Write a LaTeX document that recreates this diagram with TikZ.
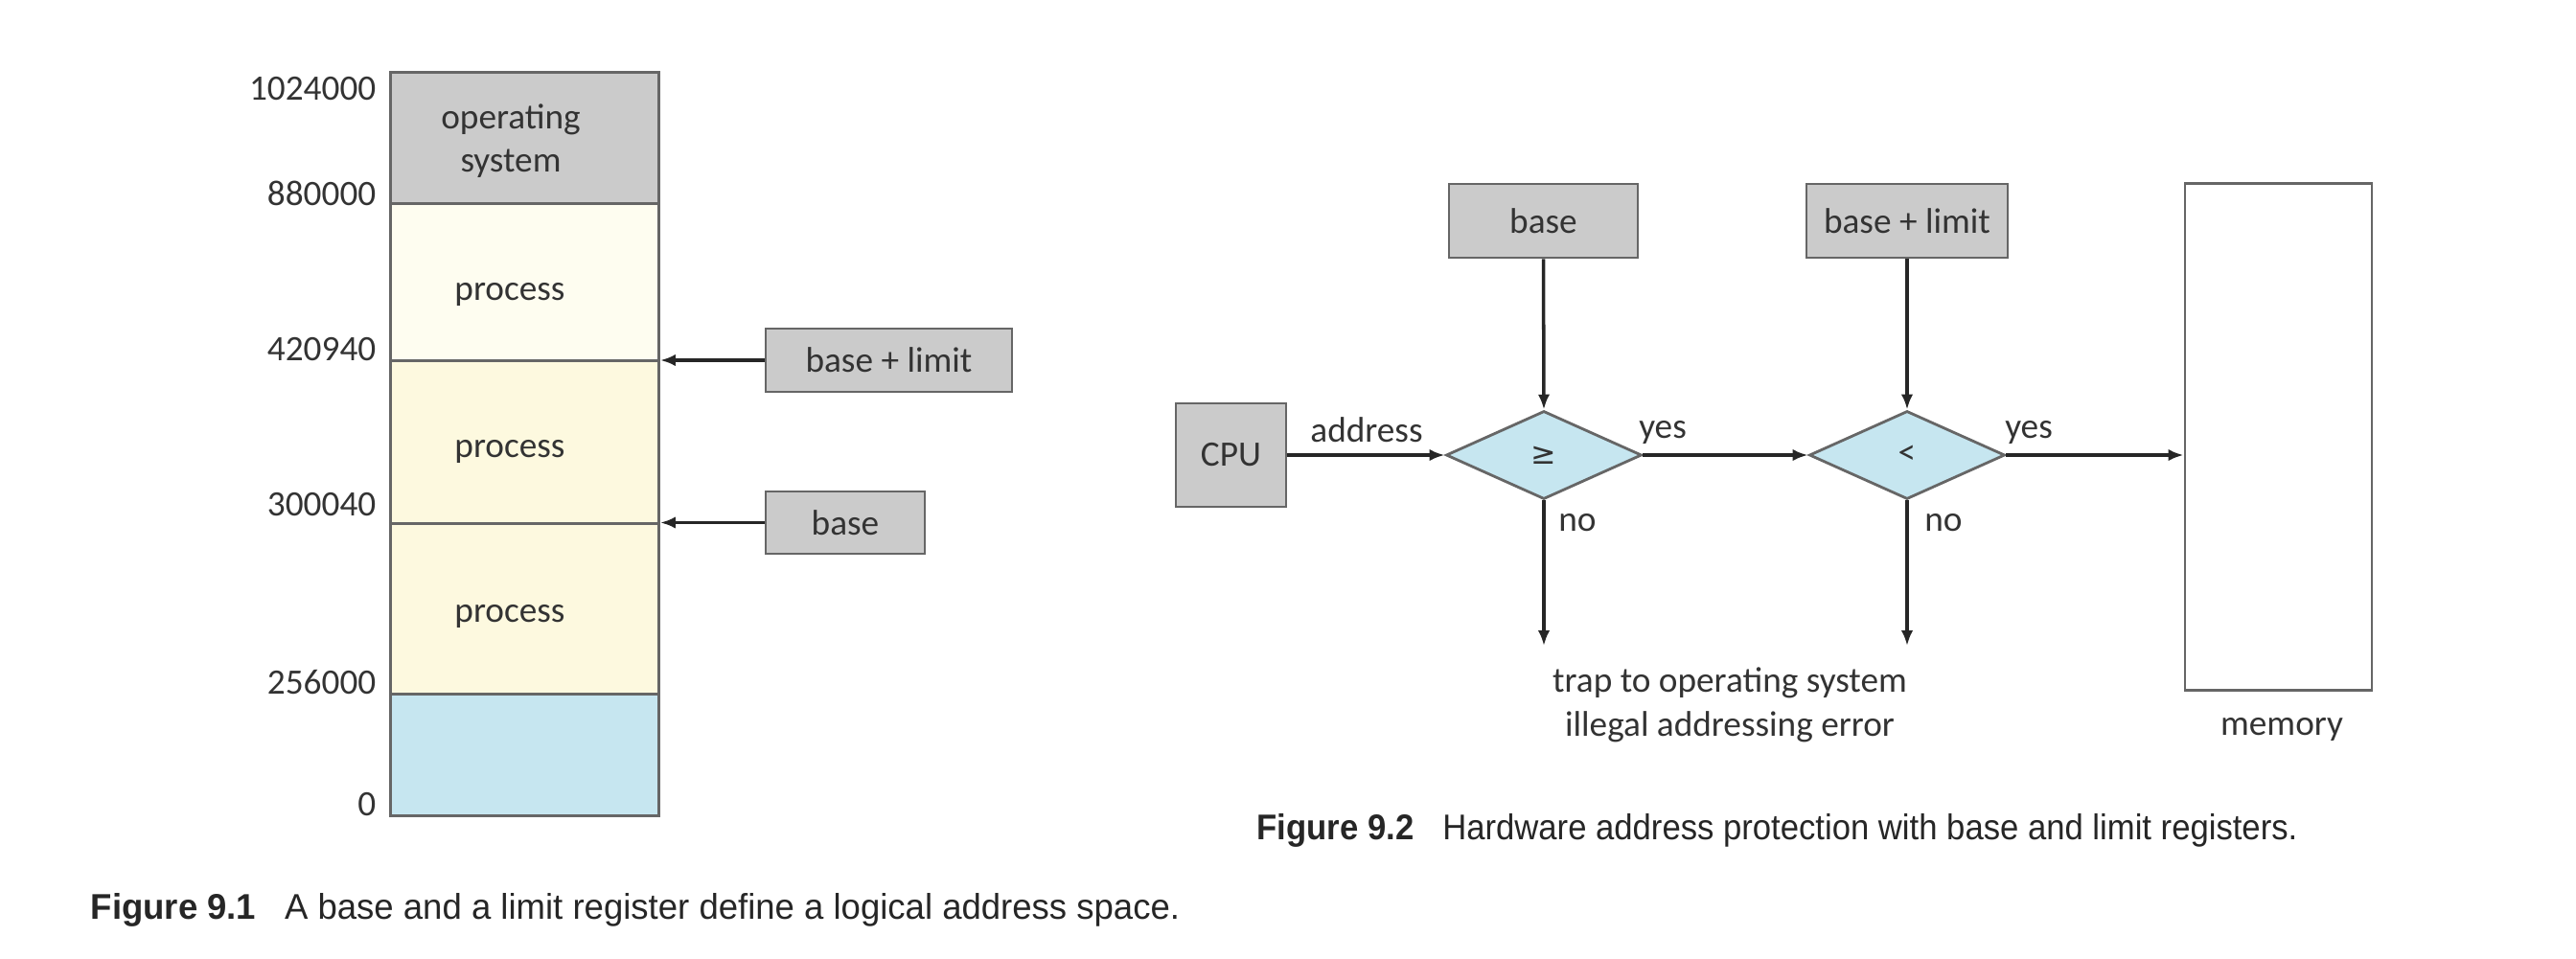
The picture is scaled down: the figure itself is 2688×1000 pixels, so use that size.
\documentclass[tikz,border=0pt]{standalone}
\usepackage{fontspec}
\setmainfont{Carlito}
\newfontfamily\capfontA[FakeStretch=0.98]{Liberation Sans}
\newfontfamily\capfontB[FakeStretch=0.93]{Liberation Sans}
\newfontfamily\symfont{DejaVu Sans}
\usetikzlibrary{shapes.geometric,arrows.meta}
\definecolor{regGray}{HTML}{CBCBCB}
\definecolor{procA}{HTML}{FEFDF0}
\definecolor{procB}{HTML}{FDF9DF}
\definecolor{freeBlue}{HTML}{C6E6F0}
\definecolor{edgeGray}{HTML}{666666}
\definecolor{txtGray}{HTML}{333333}
\begin{document}
\begin{tikzpicture}[x=0.01cm,y=-0.01cm,
  every node/.style={text=txtGray,font=\fontsize{10.6}{13}\selectfont},
  memreg/.style={draw=edgeGray,line width=0.8pt,minimum width=2.8cm,inner sep=0pt,anchor=north west},
  regbox/.style={draw=edgeGray,fill=regGray,line width=0.8pt,inner sep=0pt},
  test/.style={diamond,draw=edgeGray,fill=freeBlue,line width=0.8pt,inner sep=0pt,minimum width=2.04cm,minimum height=0.92cm},
  addr/.style={anchor=east,inner sep=0pt},
  lbl/.style={inner sep=0pt},
  arr/.style={-{Latex[length=4.5pt,width=3.5pt]},line width=1pt,draw=black!85},
  capt/.style={anchor=west,inner sep=0pt,text=black!85}]
\useasboundingbox (0,0) rectangle (2688,1000);

% ---- Figure 9.1 ----
\node[memreg,fill=regGray,minimum height=1.37cm] (os) at (406,74) {};
\node[memreg,fill=procA,minimum height=1.64cm] (p1) at (406,211) {};
\node[memreg,fill=procB,minimum height=1.70cm] (p2) at (406,375) {};
\node[memreg,fill=procB,minimum height=1.78cm] (p3) at (406,545) {};
\node[memreg,fill=freeBlue,minimum height=1.27cm] (fr) at (406,723) {};

\node[lbl,align=center] (ost) at (533,147) {operating\\system};
\node[lbl] (p1t) at (532,307) {process};
\node[lbl] (p2t) at (532,471) {process};
\node[lbl] (p3t) at (532,643) {process};

\node[addr] (a1) at (393,93) {1024000};
\node[addr] (a2) at (393,202) {880000};
\node[addr] (a3) at (393,365) {420940};
\node[addr] (a4) at (393,527) {300040};
\node[addr] (a5) at (393,712) {256000};
\node[addr] (a6) at (393,840) {0};

\node[regbox,minimum width=2.57cm,minimum height=0.66cm] (bl) at (927.5,376) {base + limit};
\node[regbox,minimum width=1.66cm,minimum height=0.65cm] (bs) at (882,545.5) {base};
\draw[arr] (bl.west) -- (bl.west -| p2.east);
\draw[arr] (bs.west) -- (bs.west -| p3.east);

\node[capt,font=\capfontA\fontsize{10.6}{13}\selectfont] (c1) at (94,950) {\textbf{Figure 9.1}\hspace{0.8em}A base and a limit register define a logical address space.};

% ---- Figure 9.2 ----
\node[regbox,minimum width=1.15cm,minimum height=1.08cm] (cpu) at (1284.5,475) {CPU};
\node[regbox,minimum width=1.97cm,minimum height=0.77cm] (tb) at (1610.5,230.5) {base};
\node[regbox,minimum width=2.10cm,minimum height=0.77cm] (tbl) at (1990,230.5) {base + limit};
\node[test] (d1) at (1611,475) {\symfont\fontsize{9}{10}\selectfont ≥};
\node[test] (d2) at (1990,475) {<};
\node[draw=edgeGray,line width=0.8pt,minimum width=1.95cm,minimum height=5.28cm,inner sep=0pt] (mem) at (2377.5,456) {};
\node[lbl] (memlbl) at (2381,761) {memory};

\coordinate (t1) at (1611,674);
\coordinate (t2) at (1990,674);

\draw[arr] (cpu.east) -- (d1.west);
\draw[arr] (tb.south) -- (d1.north);
\draw[arr] (tbl.south) -- (d2.north);
\draw[arr] (d1.east) -- (d2.west);
\draw[arr] (d2.east) -- (d2.east -| mem.west);
\draw[arr] (d1.south) -- (t1);
\draw[arr] (d2.south) -- (t2);

\node[lbl] (laddr) at (1426,449) {address};
\node[lbl] (ly1) at (1735,451) {yes};
\node[lbl] (ly2) at (2117,451) {yes};
\node[lbl] (ln1) at (1646,546) {no};
\node[lbl] (ln2) at (2028,546) {no};
\node[lbl,align=center] (trap) at (1805,736) {trap to operating system\\illegal addressing error};

\node[capt,font=\capfontB\fontsize{10.6}{13}\selectfont] (c2) at (1311,867) {\textbf{Figure 9.2}\hspace{0.8em}Hardware address protection with base and limit registers.};
\end{tikzpicture}
\end{document}
